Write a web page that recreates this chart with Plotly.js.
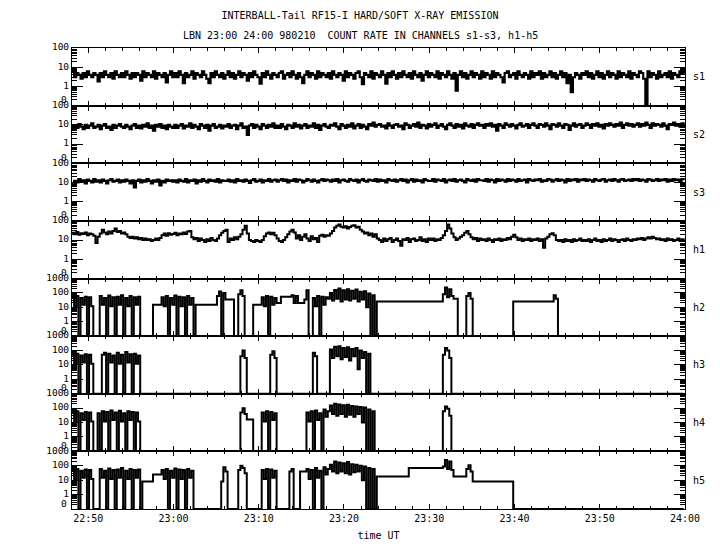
<!DOCTYPE html>
<html>
<head>
<meta charset="utf-8">
<script src="https://cdn.plot.ly/plotly-3.0.1.min.js"></script>
<style>html,body{margin:0;padding:0;background:#fff}</style>
</head>
<body>
<div id="chart" style="width:720px;height:550px"></div>
<script>
// Time grid: minutes after 22:00 UT, one sample every 15 s
const T0 = 48.1;
const DT = 0.25;

const channelNames = ['s1', 's2', 's3', 'h1', 'h2', 'h3', 'h4', 'h5'];

const s1 = [
  6,3,5,4,2.5,5,3,6,4,3,5,4,1.8,5,3,6,4,3,5,2.5,6,4,3,5,
  3,6,4,2.5,5,3,5,4,2,6,3,5,4,3,6,2.5,5,4,3,5,1.6,4,6,3,
  5,3,6,4,1.5,5,3,4,6,2.5,5,4,3,6,4,2.5,1.5,5,3,6,4,3,5,2.5,
  4,6,3,5,2.5,4,6,3,5,4,2,5,3,6,4,3,1.4,5,3,6,4,2.5,5,4,
  3,5,6,2.5,4,5,3,6,4,2.5,5,3,1.5,4,6,3,5,4,2.5,6,3,5,4,3,
  5,2.5,6,4,3,5,4,2,6,3,5,4,2.5,5,6,3,1.3,5,4,3,6,2.5,5,4,
  3,6,4,1.4,5,3,6,4,2.5,5,3,6,4,3,5,2.5,6,4,3,5,2,4,6,3,
  5,4,3,6,2.5,5,4,3,6,4,2.5,5,0.6,4,6,3,5,2.5,4,6,3,5,4,2.5,
  6,3,5,4,2.5,6,3,5,4,3,1.6,5,6,3,4,5,2.5,6,4,3,5,4,2.5,6,
  3,5,4,6,2.5,5,3,4,6,3,5,2.5,4,6,3,5,1.5,4,0.5,3,5,4,2.5,5,
  4,6,3,5,2.5,4,6,3,5,2.5,4,6,3,5,4,2.5,6,3,5,4,3,6,2.5,5,
  4,3,6,5,2.5,0,6,3,5,4,2.5,6,3,4,5,3,6,2.5,5,4,3,6,5,4
];

const s2 = [
  6,9,7,11,8,6,10,7,9,12,7,8,10,6,9,11,7,8,5.5,10,7,9,11,8,
  7,10,8,6,9,11,7,9,6.5,10,8,12,7,9,5,10,8,11,7,9,6,10,8,7,
  10,7,9,11,6.5,9,8,12,7,10,8,6,11,9,7,10,5,9,11,7,8,10,6.5,9,
  8,11,7,9,10,6,9,12,7,8,3,9,11,7,10,8,6,11,9,7,10,8,12,7,
  9,7,11,8,6,10,9,7,12,8,10,6.5,9,11,7,9,8,12,7,10,5.5,9,11,8,
  7,10,9,12,8,6,11,9,7,10,8,12,6.5,9,11,7,10,8,6,11,9,13,8,10,
  11,8,9,6.5,12,9,7,10,11,8,9,6,12,10,7,9,11,8,13,7,10,9,6.5,11,
  8,10,12,7,9,11,8,6,10,12,9,7,11,8,10,6.5,12,9,8,11,7,10,12,9,
  10,7,11,9,12,8,10,5,11,9,7,12,10,8,11,9,6.5,10,12,8,9,11,7,10,
  12,9,7,11,10,8,12,9,6,11,10,8,12,9,7,11,10,5.5,9,12,8,10,11,7,
  9,12,10,7,11,9,12,8,10,6.5,11,9,12,10,8,11,9,13,7,10,12,9,11,8,
  10,12,8,11,9,13,10,7,12,9,11,10,8,12,9,6,11,10,13,9,11,8,12,10
];

const s3 = [
  8,12,10,15,11,13,9,14,12,10,15,11,13,10,14,12,9,13,15,11,12,14,10,13,
  11,14,12,9,13,5.5,12,14,10,13,11,15,12,9,13,11,14,7,12,10,14,12,13,11,
  13,10,14,12,11,15,10,13,12,14,9,13,11,15,12,10,14,12,13,11,15,10,13,12,
  12,14,11,13,10,15,12,13,11,14,12,9.5,13,15,11,12,14,10,13,12,15,11,13,14,
  11,13,15,12,14,10,13,12,15,11,14,13,10,12,15,13,11,14,12,10,13,15,12,14,
  13,11,14,12,15,10,13,14,12,11,15,13,12,14,10,13,15,12,11,14,13,12,15,11,
  14,12,13,10,15,13,12,14,11,13,15,12,14,10,13,15,11,14,12,13,10,15,13,12,
  12,15,11,14,13,12,15,10,13,14,12,15,11,13,14,12,10,15,13,12,14,11,15,13,
  13,12,15,11,14,13,10,15,12,14,13,11,15,12,14,13,11,15,12,13,14,10,15,13,
  12,14,13,15,11,13,12,15,14,11,13,15,12,14,13,10,15,12,14,13,15,11,14,13,
  15,12,14,13,11,15,13,12,14,15,11,13,14,12,15,13,11,14,15,12,13,14,12,15,
  13,15,12,14,13,11,15,14,12,13,15,12,14,13,15,11,14,12,15,13,14,12,15,13
];

const h1 = [
  24,20,26,19,23,21,25,18,22,20,17,7,15,22,35,25,20,28,22,30,40,26,30,22,
  25,20,15,13,15,12,14,11,13,10,12,10,11,9,10,12,10,13,18,22,17,23,19,21,
  24,18,22,20,25,21,28,30,14,11,13,9,12,10,8,11,9,13,10,9,12,18,24,30,
  35,8,12,10,14,11,15,20,35,55,22,10,9,8,10,9,8,10,16,22,25,20,24,18,
  12,9,8,10,14,20,28,35,25,12,18,10,15,20,12,9,16,11,13,8,17,19,15,18,
  17,22,30,45,55,65,50,45,52,40,48,55,60,45,50,35,28,22,25,18,22,15,20,12,
  10,8,12,9,11,13,8,10,12,9,5,11,10,13,8,11,12,9,10,14,9,11,8,12,
  10,12,9,11,10,13,18,30,64,40,22,14,10,12,15,18,24,30,20,14,11,13,9,12,
  10,11,9,12,10,8,11,10,12,9,11,10,13,11,15,19,14,10,12,9,11,10,12,9,
  11,10,12,9,11,4,12,15,20,23,18,10,9,10,8,11,9,10,8,11,9,10,12,9,
  10,9,11,8,10,12,9,10,8,11,9,10,12,9,11,10,8,10,11,9,12,10,9,11,
  10,12,11,13,10,12,14,12,15,13,11,12,10,11,9,12,10,11,9,10,12,9,11,10
];

const h2 = [
  50,12,60,0,45,15,55,0,50,12,0,0,0,60,15,45,0,65,12,50,0,55,15,70,
  0,45,12,60,0,50,15,55,0,0,0,0,0,0,15,15,15,15,50,12,60,0,45,15,
  65,0,55,12,50,0,60,15,45,0,15,15,15,15,15,15,15,15,15,15,60,125,0,100,
  35,35,35,35,0,0,80,150,60,0,0,0,0,15,15,15,15,50,12,60,0,55,15,45,
  20,20,55,55,55,55,55,70,20,60,20,20,20,35,150,0,0,45,12,60,0,55,15,50,
  40,100,30,160,40,200,25,150,35,180,30,140,40,170,25,120,35,130,10,90,0,70,0,25,
  25,25,25,25,25,25,25,25,25,25,25,25,25,25,25,25,25,25,25,25,25,25,25,25,
  25,25,25,25,25,25,80,240,50,180,60,40,40,0,0,0,0,60,100,40,0,0,0,0,
  0,0,0,0,0,0,0,0,0,0,0,0,0,0,0,25,25,25,25,25,25,25,25,25,
  25,25,25,25,25,25,25,25,25,25,70,40,0,0,0,0,0,0,0,0,0,0,0,0,
  0,0,0,0,0,0,0,0,0,0,0,0,0,0,0,0,0,0,0,0,0,0,0,0,
  0,0,0,0,0,0,0,0,0,0,0,0,0,0,0,0,0,0,0,0,0,0,0,0
];

const h3 = [
  50,12,60,0,45,15,55,0,50,12,0,0,0,0,50,70,0,60,15,45,0,70,12,50,
  0,80,15,55,0,60,12,45,0,0,0,0,0,0,0,0,0,0,0,0,0,0,0,0,
  0,0,0,0,0,0,0,0,0,0,0,0,0,0,0,0,0,0,0,0,0,0,0,0,
  0,0,0,0,0,0,0,40,100,30,0,0,0,0,0,0,0,0,0,0,0,50,90,30,
  0,0,0,0,0,0,0,0,0,0,0,0,0,0,0,0,0,70,40,0,0,0,0,0,
  0,120,30,180,40,200,25,150,35,170,20,130,40,150,5,100,30,80,0,60,0,0,0,0,
  0,0,0,0,0,0,0,0,0,0,0,0,0,0,0,0,0,0,0,0,0,0,0,0,
  0,0,0,0,0,0,50,150,100,30,0,0,0,0,0,0,0,0,0,0,0,0,0,0,
  0,0,0,0,0,0,0,0,0,0,0,0,0,0,0,0,0,0,0,0,0,0,0,0,
  0,0,0,0,0,0,0,0,0,0,0,0,0,0,0,0,0,0,0,0,0,0,0,0,
  0,0,0,0,0,0,0,0,0,0,0,0,0,0,0,0,0,0,0,0,0,0,0,0,
  0,0,0,0,0,0,0,0,0,0,0,0,0,0,0,0,0,0,0,0,0,0,0,0
];

const h4 = [
  50,12,60,0,45,15,55,0,50,12,0,0,45,0,60,12,55,0,70,15,50,0,65,12,
  45,0,60,15,55,0,50,12,0,0,0,0,0,0,0,0,0,0,0,0,0,0,0,0,
  0,0,0,0,0,0,0,0,0,0,0,0,0,0,0,0,0,0,0,0,0,0,0,0,
  0,0,0,0,0,0,0,50,100,40,16,16,16,0,0,0,0,50,12,60,0,55,15,45,
  0,0,0,0,0,0,0,0,0,0,0,0,0,0,50,12,60,0,70,15,45,0,80,25,
  60,150,40,200,30,180,40,160,25,170,35,140,25,130,40,120,10,110,0,80,0,60,0,0,
  0,0,0,0,0,0,0,0,0,0,0,0,0,0,0,0,0,0,0,0,0,0,0,0,
  0,0,0,0,0,0,60,130,90,30,0,0,0,0,0,0,0,0,0,0,0,0,0,0,
  0,0,0,0,0,0,0,0,0,0,0,0,0,0,0,0,0,0,0,0,0,0,0,0,
  0,0,0,0,0,0,0,0,0,0,0,0,0,0,0,0,0,0,0,0,0,0,0,0,
  0,0,0,0,0,0,0,0,0,0,0,0,0,0,0,0,0,0,0,0,0,0,0,0,
  0,0,0,0,0,0,0,0,0,0,0,0,0,0,0,0,0,0,0,0,0,0,0,0
];

const h5 = [
  50,12,60,0,45,15,55,0,50,12,0,0,0,60,15,45,0,65,12,50,0,55,15,70,
  0,45,12,60,0,50,15,55,0,8,8,8,8,8,25,25,25,25,50,12,60,0,45,15,
  65,0,55,12,50,0,60,15,45,0,0,0,0,0,0,0,0,0,0,0,0,0,8,80,
  40,0,0,0,0,0,50,100,70,30,0,0,0,0,0,0,0,50,12,60,0,55,15,45,
  0,0,0,0,0,0,40,60,0,0,0,40,40,40,60,12,50,0,70,15,45,0,80,25,
  60,120,40,200,30,170,40,150,30,180,25,130,35,120,40,100,10,90,0,70,0,60,0,18,
  18,18,18,18,18,18,18,18,18,18,18,18,18,18,70,70,70,70,70,70,70,70,70,70,
  70,70,70,70,70,70,90,250,60,200,50,18,18,18,18,18,18,60,110,40,8,8,8,8,
  8,8,8,8,8,8,8,8,8,8,8,8,8,8,8,0,0,0,0,0,0,0,0,0,
  0,0,0,0,0,0,0,0,0,0,0,0,0,0,0,0,0,0,0,0,0,0,0,0,
  0,0,0,0,0,0,0,0,0,0,0,0,0,0,0,0,0,0,0,0,0,0,0,0,
  0,0,0,0,0,0,0,0,0,0,0,0,0,0,0,0,0,0,0,0,0,0,0,0
];

const channelValues = [s1, s2, s3, h1, h2, h3, h4, h5];

const xTickVals = [50, 60, 70, 80, 90, 100, 110, 120];
const xTickText = ['22:50', '23:00', '23:10', '23:20', '23:30', '23:40', '23:50', '24:00'];
const softTickVals = [0.1, 1, 10, 100];
const softTickText = ['', '1', '10', '100'];
const hardTickVals = [0.1, 1, 10, 100, 1000];
const hardTickText = ['', '1', '10', '100', '1000'];
const zeroLabel = '0';

const titleText = 'INTERBALL-Tail RF15-I HARD/SOFT X-RAY EMISSION';
const subtitleText = 'LBN 23:00 24:00 980210\u00a0 COUNT RATE IN CHANNELS s1-s3, h1-h5';

// ---------------------------------------------------------------
const FONT = 'DejaVu Sans Mono, Liberation Mono, monospace';
const FS = 10;
const YFS = 9.5;
const time = s1.map((_, i) => T0 + DT * i);
const nPanels = channelNames.length;

function minorLogTicks(maxDecade) {
  const out = [];
  for (let d = -1; d < maxDecade; d++) {
    for (let m = 2; m <= 9; m++) out.push(m * Math.pow(10, d));
  }
  return out;
}

const traces = channelValues.map((vals, k) => ({
  type: 'scatter',
  mode: 'lines',
  x: time,
  y: vals.map(v => (v > 0 ? v : 0.1)),   // zero counts drawn on the axis floor
  xaxis: k === 0 ? 'x' : 'x' + (k + 1),
  yaxis: k === 0 ? 'y' : 'y' + (k + 1),
  line: { color: '#000', width: k < 3 ? 2.2 : 2, shape: 'hv', simplify: false },
  hoverinfo: 'skip',
  name: channelNames[k]
}));

const layout = {
  width: 720,
  height: 550,
  margin: { l: 72, r: 35, t: 48, b: 41 },
  paper_bgcolor: '#fff',
  plot_bgcolor: '#fff',
  showlegend: false,
  font: { family: FONT, size: FS, color: '#000' },
  title: {
    text: titleText,
    x: 0.5, xref: 'container', xanchor: 'center',
    y: 1 - 15 / 550, yref: 'container', yanchor: 'middle',
    font: { family: FONT, size: FS, color: '#000' }
  },
  annotations: [
    {
      text: subtitleText, showarrow: false,
      xref: 'paper', yref: 'paper',
      x: (360 - 72) / 613, y: (509 - 35) / 461,
      xanchor: 'center', yanchor: 'middle',
      font: { family: FONT, size: FS, color: '#000' }
    }
  ]
};

for (let k = 0; k < nPanels; k++) {
  const sfx = k === 0 ? '' : String(k + 1);
  const hard = k >= 4;
  const top = 1 - k / nPanels;
  const bottom = 1 - (k + 1) / nPanels;
  layout['xaxis' + sfx] = {
    domain: [0, 1],
    anchor: 'y' + sfx,
    range: [48.1, 120.001],
    tickmode: 'array',
    tickvals: xTickVals,
    ticktext: xTickText,
    showticklabels: k === nPanels - 1,
    ticks: 'inside', ticklen: 5, tickwidth: 1, tickcolor: '#000',
    minor: { tickmode: 'linear', tick0: 0, dtick: 2, ticks: 'inside', ticklen: 3, tickwidth: 1, tickcolor: '#000', showgrid: false },
    showline: true, linecolor: '#000', linewidth: 1, mirror: 'ticks',
    showgrid: false, zeroline: false, fixedrange: true,
    tickfont: { family: FONT, size: FS, color: '#000' }
  };
  if (k === nPanels - 1) {
    layout['xaxis' + sfx].title = { text: 'time UT', standoff: 8, font: { family: FONT, size: FS, color: '#000' } };
  }
  layout['yaxis' + sfx] = {
    domain: [bottom, top],
    anchor: 'x' + sfx,
    type: 'log',
    range: hard ? [-1, 3] : [-1, 2],
    tickmode: 'array',
    tickvals: hard ? hardTickVals : softTickVals,
    ticktext: hard ? hardTickText : softTickText,
    ticklabelshift: -1,
    ticks: 'inside', ticklen: 11, tickwidth: 1, tickcolor: '#000',
    minor: { tickmode: 'array', tickvals: minorLogTicks(hard ? 3 : 2), ticks: 'inside', ticklen: 5, tickwidth: 1, tickcolor: '#000', showgrid: false },
    showline: true, linecolor: '#000', linewidth: 1, mirror: 'ticks',
    showgrid: false, zeroline: false, fixedrange: true,
    tickfont: { family: FONT, size: YFS, color: '#000' }
  };
  // the "0" label of each panel sits a little above the panel floor
  layout.annotations.push({
    text: zeroLabel, showarrow: false,
    xref: 'paper', yref: 'y' + sfx + ' domain',
    x: 0, y: 0, xanchor: 'right', yanchor: 'middle',
    xshift: -3, yshift: 6,
    font: { family: FONT, size: YFS, color: '#000' }
  });
  layout.annotations.push({
    text: channelNames[k], showarrow: false,
    xref: 'paper', yref: 'paper',
    x: (699 - 72) / 613, y: (top + bottom) / 2,
    xanchor: 'center', yanchor: 'middle',
    font: { family: FONT, size: FS, color: '#000' }
  });
}

Plotly.newPlot('chart', traces, layout, { staticPlot: true, displayModeBar: false });
</script>
</body>
</html>
